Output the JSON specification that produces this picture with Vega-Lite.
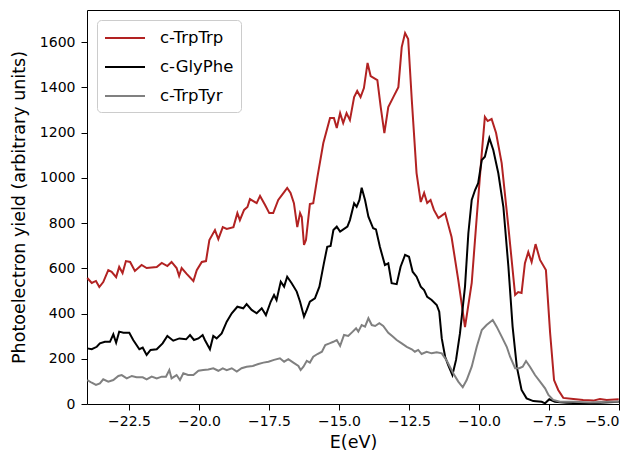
{
"$schema": "https://vega.github.io/schema/vega-lite/v6.json",
"width": 532, "height": 394,
"autosize": {"type": "none"},
"padding": {"left": 87, "top": 10, "right": 17, "bottom": 48},
"background": "white",
"config": {
  "font": "DejaVu Sans",
  "view": {"stroke": "black", "strokeWidth": 1},
  "axis": {"grid": false, "domain": false, "tickColor": "black", "tickSize": 6, "tickWidth": 1, "labelColor": "black", "labelFontSize": 14, "labelFont": "DejaVu Sans", "titleFont": "DejaVu Sans", "titleFontSize": 17.5, "titleFontWeight": "normal", "titleColor": "black"}
},
"data": {"values": [
{"s":"c-TrpTrp","e":-23.99,"y":557},{"s":"c-TrpTrp","e":-23.83,"y":535},{"s":"c-TrpTrp","e":-23.68,"y":544},{"s":"c-TrpTrp","e":-23.56,"y":517},{"s":"c-TrpTrp","e":-23.42,"y":539},{"s":"c-TrpTrp","e":-23.24,"y":592},{"s":"c-TrpTrp","e":-23.12,"y":584},{"s":"c-TrpTrp","e":-22.96,"y":561},{"s":"c-TrpTrp","e":-22.85,"y":606},{"s":"c-TrpTrp","e":-22.73,"y":579},{"s":"c-TrpTrp","e":-22.61,"y":632},{"s":"c-TrpTrp","e":-22.46,"y":628},{"s":"c-TrpTrp","e":-22.29,"y":588},{"s":"c-TrpTrp","e":-22.05,"y":615},{"s":"c-TrpTrp","e":-21.87,"y":601},{"s":"c-TrpTrp","e":-21.51,"y":606},{"s":"c-TrpTrp","e":-21.33,"y":624},{"s":"c-TrpTrp","e":-21.13,"y":610},{"s":"c-TrpTrp","e":-20.98,"y":628},{"s":"c-TrpTrp","e":-20.80,"y":601},{"s":"c-TrpTrp","e":-20.71,"y":566},{"s":"c-TrpTrp","e":-20.62,"y":601},{"s":"c-TrpTrp","e":-20.44,"y":575},{"s":"c-TrpTrp","e":-20.20,"y":544},{"s":"c-TrpTrp","e":-20.08,"y":592},{"s":"c-TrpTrp","e":-19.90,"y":628},{"s":"c-TrpTrp","e":-19.75,"y":632},{"s":"c-TrpTrp","e":-19.63,"y":725},{"s":"c-TrpTrp","e":-19.43,"y":769},{"s":"c-TrpTrp","e":-19.31,"y":729},{"s":"c-TrpTrp","e":-19.15,"y":782},{"s":"c-TrpTrp","e":-19.01,"y":774},{"s":"c-TrpTrp","e":-18.77,"y":782},{"s":"c-TrpTrp","e":-18.63,"y":844},{"s":"c-TrpTrp","e":-18.54,"y":813},{"s":"c-TrpTrp","e":-18.39,"y":858},{"s":"c-TrpTrp","e":-18.27,"y":871},{"s":"c-TrpTrp","e":-18.18,"y":906},{"s":"c-TrpTrp","e":-18.06,"y":897},{"s":"c-TrpTrp","e":-17.94,"y":888},{"s":"c-TrpTrp","e":-17.82,"y":920},{"s":"c-TrpTrp","e":-17.64,"y":880},{"s":"c-TrpTrp","e":-17.49,"y":844},{"s":"c-TrpTrp","e":-17.35,"y":844},{"s":"c-TrpTrp","e":-17.17,"y":902},{"s":"c-TrpTrp","e":-16.96,"y":937},{"s":"c-TrpTrp","e":-16.85,"y":955},{"s":"c-TrpTrp","e":-16.73,"y":933},{"s":"c-TrpTrp","e":-16.61,"y":888},{"s":"c-TrpTrp","e":-16.49,"y":782},{"s":"c-TrpTrp","e":-16.39,"y":844},{"s":"c-TrpTrp","e":-16.33,"y":827},{"s":"c-TrpTrp","e":-16.25,"y":703},{"s":"c-TrpTrp","e":-16.18,"y":725},{"s":"c-TrpTrp","e":-16.04,"y":884},{"s":"c-TrpTrp","e":-15.92,"y":888},{"s":"c-TrpTrp","e":-15.77,"y":1004},{"s":"c-TrpTrp","e":-15.56,"y":1154},{"s":"c-TrpTrp","e":-15.32,"y":1264},{"s":"c-TrpTrp","e":-15.18,"y":1264},{"s":"c-TrpTrp","e":-15.08,"y":1220},{"s":"c-TrpTrp","e":-14.96,"y":1286},{"s":"c-TrpTrp","e":-14.85,"y":1242},{"s":"c-TrpTrp","e":-14.73,"y":1286},{"s":"c-TrpTrp","e":-14.61,"y":1255},{"s":"c-TrpTrp","e":-14.46,"y":1357},{"s":"c-TrpTrp","e":-14.35,"y":1384},{"s":"c-TrpTrp","e":-14.23,"y":1357},{"s":"c-TrpTrp","e":-14.11,"y":1397},{"s":"c-TrpTrp","e":-13.98,"y":1508},{"s":"c-TrpTrp","e":-13.87,"y":1450},{"s":"c-TrpTrp","e":-13.63,"y":1432},{"s":"c-TrpTrp","e":-13.51,"y":1313},{"s":"c-TrpTrp","e":-13.38,"y":1198},{"s":"c-TrpTrp","e":-13.24,"y":1313},{"s":"c-TrpTrp","e":-13.06,"y":1357},{"s":"c-TrpTrp","e":-12.88,"y":1401},{"s":"c-TrpTrp","e":-12.76,"y":1578},{"s":"c-TrpTrp","e":-12.64,"y":1640},{"s":"c-TrpTrp","e":-12.53,"y":1614},{"s":"c-TrpTrp","e":-12.40,"y":1344},{"s":"c-TrpTrp","e":-12.23,"y":1021},{"s":"c-TrpTrp","e":-12.08,"y":893},{"s":"c-TrpTrp","e":-11.96,"y":933},{"s":"c-TrpTrp","e":-11.85,"y":889},{"s":"c-TrpTrp","e":-11.73,"y":902},{"s":"c-TrpTrp","e":-11.61,"y":858},{"s":"c-TrpTrp","e":-11.45,"y":822},{"s":"c-TrpTrp","e":-11.21,"y":844},{"s":"c-TrpTrp","e":-10.98,"y":738},{"s":"c-TrpTrp","e":-10.74,"y":548},{"s":"c-TrpTrp","e":-10.50,"y":340},{"s":"c-TrpTrp","e":-10.26,"y":535},{"s":"c-TrpTrp","e":-10.08,"y":827},{"s":"c-TrpTrp","e":-9.90,"y":1110},{"s":"c-TrpTrp","e":-9.79,"y":1269},{"s":"c-TrpTrp","e":-9.69,"y":1251},{"s":"c-TrpTrp","e":-9.55,"y":1260},{"s":"c-TrpTrp","e":-9.39,"y":1198},{"s":"c-TrpTrp","e":-9.19,"y":1065},{"s":"c-TrpTrp","e":-8.95,"y":782},{"s":"c-TrpTrp","e":-8.71,"y":482},{"s":"c-TrpTrp","e":-8.60,"y":495},{"s":"c-TrpTrp","e":-8.48,"y":491},{"s":"c-TrpTrp","e":-8.36,"y":623},{"s":"c-TrpTrp","e":-8.24,"y":672},{"s":"c-TrpTrp","e":-8.12,"y":628},{"s":"c-TrpTrp","e":-7.98,"y":707},{"s":"c-TrpTrp","e":-7.82,"y":637},{"s":"c-TrpTrp","e":-7.61,"y":592},{"s":"c-TrpTrp","e":-7.46,"y":314},{"s":"c-TrpTrp","e":-7.32,"y":106},{"s":"c-TrpTrp","e":-7.17,"y":62},{"s":"c-TrpTrp","e":-6.99,"y":27},{"s":"c-TrpTrp","e":-6.63,"y":22},{"s":"c-TrpTrp","e":-6.28,"y":18},{"s":"c-TrpTrp","e":-5.92,"y":15},{"s":"c-TrpTrp","e":-5.68,"y":22},{"s":"c-TrpTrp","e":-5.44,"y":18},{"s":"c-TrpTrp","e":-5.01,"y":21},
{"s":"c-GlyPhe","e":-23.99,"y":246},{"s":"c-GlyPhe","e":-23.83,"y":242},{"s":"c-GlyPhe","e":-23.65,"y":253},{"s":"c-GlyPhe","e":-23.54,"y":268},{"s":"c-GlyPhe","e":-23.36,"y":275},{"s":"c-GlyPhe","e":-23.18,"y":275},{"s":"c-GlyPhe","e":-23.06,"y":308},{"s":"c-GlyPhe","e":-22.96,"y":271},{"s":"c-GlyPhe","e":-22.85,"y":320},{"s":"c-GlyPhe","e":-22.70,"y":315},{"s":"c-GlyPhe","e":-22.49,"y":315},{"s":"c-GlyPhe","e":-22.35,"y":283},{"s":"c-GlyPhe","e":-22.13,"y":242},{"s":"c-GlyPhe","e":-22.01,"y":249},{"s":"c-GlyPhe","e":-21.87,"y":217},{"s":"c-GlyPhe","e":-21.73,"y":239},{"s":"c-GlyPhe","e":-21.51,"y":242},{"s":"c-GlyPhe","e":-21.30,"y":268},{"s":"c-GlyPhe","e":-21.13,"y":301},{"s":"c-GlyPhe","e":-20.92,"y":280},{"s":"c-GlyPhe","e":-20.70,"y":290},{"s":"c-GlyPhe","e":-20.46,"y":286},{"s":"c-GlyPhe","e":-20.32,"y":305},{"s":"c-GlyPhe","e":-20.18,"y":283},{"s":"c-GlyPhe","e":-20.02,"y":290},{"s":"c-GlyPhe","e":-19.87,"y":305},{"s":"c-GlyPhe","e":-19.79,"y":283},{"s":"c-GlyPhe","e":-19.61,"y":242},{"s":"c-GlyPhe","e":-19.49,"y":301},{"s":"c-GlyPhe","e":-19.37,"y":290},{"s":"c-GlyPhe","e":-19.19,"y":312},{"s":"c-GlyPhe","e":-19.01,"y":364},{"s":"c-GlyPhe","e":-18.83,"y":401},{"s":"c-GlyPhe","e":-18.63,"y":430},{"s":"c-GlyPhe","e":-18.42,"y":423},{"s":"c-GlyPhe","e":-18.30,"y":442},{"s":"c-GlyPhe","e":-18.12,"y":416},{"s":"c-GlyPhe","e":-17.94,"y":401},{"s":"c-GlyPhe","e":-17.76,"y":423},{"s":"c-GlyPhe","e":-17.61,"y":393},{"s":"c-GlyPhe","e":-17.44,"y":452},{"s":"c-GlyPhe","e":-17.32,"y":482},{"s":"c-GlyPhe","e":-17.23,"y":460},{"s":"c-GlyPhe","e":-17.08,"y":541},{"s":"c-GlyPhe","e":-16.96,"y":519},{"s":"c-GlyPhe","e":-16.85,"y":563},{"s":"c-GlyPhe","e":-16.69,"y":534},{"s":"c-GlyPhe","e":-16.51,"y":497},{"s":"c-GlyPhe","e":-16.39,"y":452},{"s":"c-GlyPhe","e":-16.25,"y":386},{"s":"c-GlyPhe","e":-16.15,"y":416},{"s":"c-GlyPhe","e":-16.04,"y":452},{"s":"c-GlyPhe","e":-15.86,"y":467},{"s":"c-GlyPhe","e":-15.70,"y":519},{"s":"c-GlyPhe","e":-15.54,"y":622},{"s":"c-GlyPhe","e":-15.42,"y":695},{"s":"c-GlyPhe","e":-15.30,"y":699},{"s":"c-GlyPhe","e":-15.20,"y":769},{"s":"c-GlyPhe","e":-15.08,"y":784},{"s":"c-GlyPhe","e":-14.96,"y":762},{"s":"c-GlyPhe","e":-14.70,"y":784},{"s":"c-GlyPhe","e":-14.61,"y":813},{"s":"c-GlyPhe","e":-14.46,"y":887},{"s":"c-GlyPhe","e":-14.37,"y":872},{"s":"c-GlyPhe","e":-14.27,"y":902},{"s":"c-GlyPhe","e":-14.19,"y":956},{"s":"c-GlyPhe","e":-14.07,"y":902},{"s":"c-GlyPhe","e":-13.95,"y":828},{"s":"c-GlyPhe","e":-13.78,"y":777},{"s":"c-GlyPhe","e":-13.68,"y":772},{"s":"c-GlyPhe","e":-13.54,"y":695},{"s":"c-GlyPhe","e":-13.36,"y":614},{"s":"c-GlyPhe","e":-13.24,"y":622},{"s":"c-GlyPhe","e":-13.12,"y":534},{"s":"c-GlyPhe","e":-12.94,"y":530},{"s":"c-GlyPhe","e":-12.80,"y":607},{"s":"c-GlyPhe","e":-12.64,"y":659},{"s":"c-GlyPhe","e":-12.50,"y":651},{"s":"c-GlyPhe","e":-12.37,"y":585},{"s":"c-GlyPhe","e":-12.23,"y":563},{"s":"c-GlyPhe","e":-12.08,"y":519},{"s":"c-GlyPhe","e":-11.96,"y":504},{"s":"c-GlyPhe","e":-11.85,"y":474},{"s":"c-GlyPhe","e":-11.69,"y":460},{"s":"c-GlyPhe","e":-11.51,"y":438},{"s":"c-GlyPhe","e":-11.42,"y":408},{"s":"c-GlyPhe","e":-11.33,"y":290},{"s":"c-GlyPhe","e":-11.21,"y":209},{"s":"c-GlyPhe","e":-11.10,"y":172},{"s":"c-GlyPhe","e":-10.95,"y":128},{"s":"c-GlyPhe","e":-10.82,"y":195},{"s":"c-GlyPhe","e":-10.68,"y":312},{"s":"c-GlyPhe","e":-10.50,"y":519},{"s":"c-GlyPhe","e":-10.38,"y":755},{"s":"c-GlyPhe","e":-10.26,"y":902},{"s":"c-GlyPhe","e":-10.14,"y":946},{"s":"c-GlyPhe","e":-10.03,"y":976},{"s":"c-GlyPhe","e":-9.90,"y":1079},{"s":"c-GlyPhe","e":-9.79,"y":1093},{"s":"c-GlyPhe","e":-9.63,"y":1175},{"s":"c-GlyPhe","e":-9.49,"y":1123},{"s":"c-GlyPhe","e":-9.31,"y":1020},{"s":"c-GlyPhe","e":-9.13,"y":872},{"s":"c-GlyPhe","e":-8.95,"y":607},{"s":"c-GlyPhe","e":-8.80,"y":342},{"s":"c-GlyPhe","e":-8.65,"y":165},{"s":"c-GlyPhe","e":-8.48,"y":62},{"s":"c-GlyPhe","e":-8.30,"y":25},{"s":"c-GlyPhe","e":-8.06,"y":13},{"s":"c-GlyPhe","e":-7.76,"y":10},{"s":"c-GlyPhe","e":-7.64,"y":3},{"s":"c-GlyPhe","e":-7.49,"y":21},{"s":"c-GlyPhe","e":-7.29,"y":10},{"s":"c-GlyPhe","e":-6.87,"y":6},{"s":"c-GlyPhe","e":-6.39,"y":3},{"s":"c-GlyPhe","e":-5.68,"y":6},{"s":"c-GlyPhe","e":-5.01,"y":10},
{"s":"c-TrpTyr","e":-23.99,"y":106},{"s":"c-TrpTyr","e":-23.83,"y":94},{"s":"c-TrpTyr","e":-23.68,"y":84},{"s":"c-TrpTyr","e":-23.54,"y":91},{"s":"c-TrpTyr","e":-23.42,"y":109},{"s":"c-TrpTyr","e":-23.24,"y":99},{"s":"c-TrpTyr","e":-23.06,"y":106},{"s":"c-TrpTyr","e":-22.88,"y":124},{"s":"c-TrpTyr","e":-22.76,"y":128},{"s":"c-TrpTyr","e":-22.58,"y":113},{"s":"c-TrpTyr","e":-22.40,"y":124},{"s":"c-TrpTyr","e":-22.23,"y":118},{"s":"c-TrpTyr","e":-22.01,"y":118},{"s":"c-TrpTyr","e":-21.87,"y":109},{"s":"c-TrpTyr","e":-21.69,"y":121},{"s":"c-TrpTyr","e":-21.51,"y":113},{"s":"c-TrpTyr","e":-21.33,"y":121},{"s":"c-TrpTyr","e":-21.18,"y":121},{"s":"c-TrpTyr","e":-21.06,"y":150},{"s":"c-TrpTyr","e":-20.98,"y":113},{"s":"c-TrpTyr","e":-20.80,"y":128},{"s":"c-TrpTyr","e":-20.68,"y":106},{"s":"c-TrpTyr","e":-20.56,"y":136},{"s":"c-TrpTyr","e":-20.39,"y":128},{"s":"c-TrpTyr","e":-20.20,"y":128},{"s":"c-TrpTyr","e":-20.02,"y":147},{"s":"c-TrpTyr","e":-19.85,"y":150},{"s":"c-TrpTyr","e":-19.67,"y":153},{"s":"c-TrpTyr","e":-19.49,"y":158},{"s":"c-TrpTyr","e":-19.31,"y":147},{"s":"c-TrpTyr","e":-19.15,"y":158},{"s":"c-TrpTyr","e":-19.01,"y":150},{"s":"c-TrpTyr","e":-18.83,"y":158},{"s":"c-TrpTyr","e":-18.65,"y":143},{"s":"c-TrpTyr","e":-18.48,"y":158},{"s":"c-TrpTyr","e":-18.30,"y":165},{"s":"c-TrpTyr","e":-18.08,"y":168},{"s":"c-TrpTyr","e":-17.88,"y":177},{"s":"c-TrpTyr","e":-17.70,"y":183},{"s":"c-TrpTyr","e":-17.52,"y":187},{"s":"c-TrpTyr","e":-17.32,"y":195},{"s":"c-TrpTyr","e":-17.11,"y":202},{"s":"c-TrpTyr","e":-16.96,"y":187},{"s":"c-TrpTyr","e":-16.81,"y":198},{"s":"c-TrpTyr","e":-16.63,"y":183},{"s":"c-TrpTyr","e":-16.45,"y":168},{"s":"c-TrpTyr","e":-16.37,"y":150},{"s":"c-TrpTyr","e":-16.27,"y":165},{"s":"c-TrpTyr","e":-16.15,"y":191},{"s":"c-TrpTyr","e":-16.04,"y":183},{"s":"c-TrpTyr","e":-15.92,"y":209},{"s":"c-TrpTyr","e":-15.77,"y":221},{"s":"c-TrpTyr","e":-15.61,"y":231},{"s":"c-TrpTyr","e":-15.49,"y":261},{"s":"c-TrpTyr","e":-15.34,"y":268},{"s":"c-TrpTyr","e":-15.20,"y":275},{"s":"c-TrpTyr","e":-15.08,"y":283},{"s":"c-TrpTyr","e":-14.96,"y":257},{"s":"c-TrpTyr","e":-14.82,"y":305},{"s":"c-TrpTyr","e":-14.67,"y":301},{"s":"c-TrpTyr","e":-14.51,"y":320},{"s":"c-TrpTyr","e":-14.39,"y":335},{"s":"c-TrpTyr","e":-14.31,"y":320},{"s":"c-TrpTyr","e":-14.19,"y":349},{"s":"c-TrpTyr","e":-14.07,"y":342},{"s":"c-TrpTyr","e":-13.95,"y":379},{"s":"c-TrpTyr","e":-13.83,"y":349},{"s":"c-TrpTyr","e":-13.71,"y":345},{"s":"c-TrpTyr","e":-13.56,"y":357},{"s":"c-TrpTyr","e":-13.42,"y":345},{"s":"c-TrpTyr","e":-13.24,"y":315},{"s":"c-TrpTyr","e":-13.08,"y":298},{"s":"c-TrpTyr","e":-12.94,"y":283},{"s":"c-TrpTyr","e":-12.76,"y":268},{"s":"c-TrpTyr","e":-12.58,"y":253},{"s":"c-TrpTyr","e":-12.40,"y":242},{"s":"c-TrpTyr","e":-12.29,"y":231},{"s":"c-TrpTyr","e":-12.17,"y":239},{"s":"c-TrpTyr","e":-12.05,"y":221},{"s":"c-TrpTyr","e":-11.87,"y":231},{"s":"c-TrpTyr","e":-11.69,"y":224},{"s":"c-TrpTyr","e":-11.51,"y":229},{"s":"c-TrpTyr","e":-11.33,"y":224},{"s":"c-TrpTyr","e":-11.15,"y":191},{"s":"c-TrpTyr","e":-10.92,"y":136},{"s":"c-TrpTyr","e":-10.74,"y":99},{"s":"c-TrpTyr","e":-10.58,"y":74},{"s":"c-TrpTyr","e":-10.44,"y":106},{"s":"c-TrpTyr","e":-10.26,"y":165},{"s":"c-TrpTyr","e":-10.08,"y":253},{"s":"c-TrpTyr","e":-9.90,"y":327},{"s":"c-TrpTyr","e":-9.73,"y":349},{"s":"c-TrpTyr","e":-9.51,"y":371},{"s":"c-TrpTyr","e":-9.37,"y":342},{"s":"c-TrpTyr","e":-9.19,"y":298},{"s":"c-TrpTyr","e":-9.01,"y":253},{"s":"c-TrpTyr","e":-8.89,"y":209},{"s":"c-TrpTyr","e":-8.71,"y":158},{"s":"c-TrpTyr","e":-8.56,"y":158},{"s":"c-TrpTyr","e":-8.44,"y":165},{"s":"c-TrpTyr","e":-8.32,"y":190},{"s":"c-TrpTyr","e":-8.18,"y":165},{"s":"c-TrpTyr","e":-8.00,"y":128},{"s":"c-TrpTyr","e":-7.82,"y":99},{"s":"c-TrpTyr","e":-7.64,"y":69},{"s":"c-TrpTyr","e":-7.52,"y":40},{"s":"c-TrpTyr","e":-7.35,"y":18},{"s":"c-TrpTyr","e":-7.11,"y":10},{"s":"c-TrpTyr","e":-6.63,"y":10},{"s":"c-TrpTyr","e":-6.04,"y":7},{"s":"c-TrpTyr","e":-5.44,"y":10},{"s":"c-TrpTyr","e":-5.01,"y":10}
]},
"mark": {"type": "line", "strokeWidth": 2},
"encoding": {
  "x": {"field": "e", "type": "quantitative", "scale": {"domain": [-24, -5], "nice": false, "zero": false},
        "axis": {"title": "E(eV)", "values": [-22.5, -20, -17.5, -15, -12.5, -10, -7.5, -5], "format": ".1f", "labelPadding": 4, "titlePadding": 5}},
  "y": {"field": "y", "type": "quantitative", "scale": {"domain": [0, 1742], "nice": false},
        "axis": {"title": "Photoelectron yield (arbitrary units)", "values": [0, 200, 400, 600, 800, 1000, 1200, 1400, 1600], "format": "d", "labelPadding": 6, "titlePadding": 11}},
  "color": {"field": "s", "type": "nominal",
            "scale": {"domain": ["c-TrpTrp", "c-GlyPhe", "c-TrpTyr"], "range": ["#b22222", "#000000", "#808080"]},
            "legend": {"title": null, "orient": "top-left", "offset": 10, "padding": 7, "fillColor": "white", "strokeColor": "#cccccc", "cornerRadius": 4,
                       "symbolType": "M-1,0H3", "symbolSize": 400, "symbolStrokeWidth": 2, "labelFontSize": 16.5, "labelOffset": 34, "rowPadding": 9, "labelColor": "black", "labelFont": "DejaVu Sans"}}
}
}
